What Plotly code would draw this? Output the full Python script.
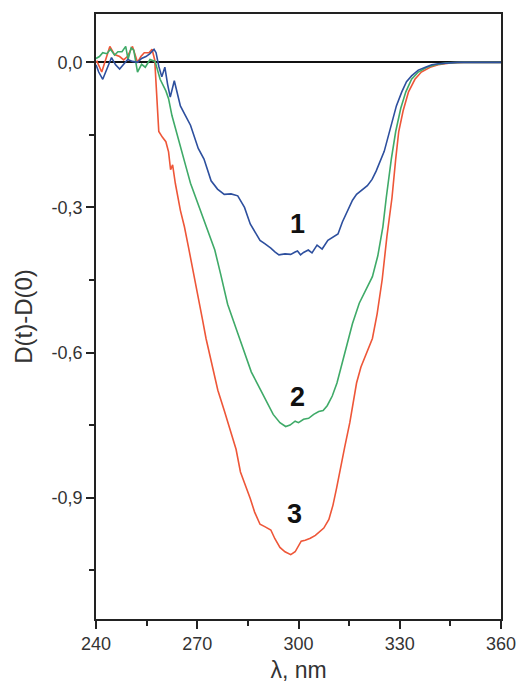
import plotly.graph_objects as go

# ---- data ----
wl_1 = [240, 240.8, 242, 243.3, 244.6, 245.8, 247, 248.2, 249.4, 250.8, 252.3, 253.5, 254.8, 256, 257.2,
        257.8, 258.6, 259.5, 260.4, 261.2, 262, 263.2, 264, 265, 266.5, 268, 270.3, 272, 274.1, 276, 278,
        280, 282, 284, 285.7, 287, 288.6, 290, 291.8, 293, 294.2, 296, 297.7, 299, 299.7, 300.6, 301.5,
        302.9, 304, 305.5, 307, 308.7, 310, 311.7, 313, 314.6, 316, 317.2, 318.8, 320.4, 321.8, 323, 325.4,
        327.7, 329, 330.6, 332, 333.5, 335.5, 337.6, 339.5, 341.4, 344, 347, 350, 355, 360]
d_1 = [-0.005, -0.02, -0.035, -0.012, 0.01, -0.005, -0.014, -0.004, 0.006, 0.002, 0.0, 0.008, 0.012, 0.018, 0.027,
       0.02, -0.008, -0.03, -0.01, -0.045, -0.072, -0.038, -0.06, -0.09, -0.11, -0.13, -0.178, -0.2, -0.245, -0.262, -0.273,
       -0.272, -0.276, -0.3, -0.334, -0.35, -0.368, -0.375, -0.384, -0.392, -0.398, -0.396, -0.397, -0.392, -0.39, -0.398, -0.393,
       -0.388, -0.394, -0.378, -0.386, -0.368, -0.362, -0.355, -0.33, -0.306, -0.285, -0.273, -0.263, -0.255, -0.242, -0.225, -0.184,
       -0.122, -0.09, -0.061, -0.04, -0.028, -0.016, -0.01, -0.005, -0.003, -0.001, 0.0, 0.0, 0.0, 0.0]

wl_2 = [240, 241, 242, 243.2, 244.3, 245.5, 246.5, 247.7, 248.8, 249.5, 250.4, 251.2, 252.3, 253.5, 254.6, 256,
        257.5, 259, 260.7, 261.5, 262.5, 264, 265.3, 266.5, 268, 270.3, 272.5, 275.2, 277, 279, 282, 284, 286,
        288.6, 290.5, 292.5, 294.5, 296.2, 297.5, 299, 300, 301.5, 303, 304.5, 306, 307.3, 308.5, 310, 311.4,
        313, 314.6, 316, 318, 320, 321.9, 323.5, 325, 326, 327.5, 328.8, 330.3, 331.8, 333.5, 335.5, 338,
        340.5, 344, 348, 360]
d_2 = [0.008, 0.012, 0.02, 0.018, 0.027, 0.015, 0.022, 0.022, 0.033, 0.006, 0.03, 0.025, -0.02, -0.004, -0.01, 0.006,
       0.002, -0.035, -0.059, -0.075, -0.11, -0.15, -0.18, -0.212, -0.25, -0.294, -0.34, -0.388, -0.44, -0.5, -0.56, -0.6, -0.64,
       -0.675, -0.7, -0.728, -0.745, -0.753, -0.75, -0.742, -0.745, -0.738, -0.736, -0.728, -0.722, -0.72, -0.71, -0.69, -0.663,
       -0.62, -0.576, -0.54, -0.498, -0.47, -0.443, -0.4, -0.34, -0.28, -0.2, -0.143, -0.095, -0.061, -0.035, -0.02, -0.01,
       -0.005, -0.001, 0.0, 0.0]

wl_3 = [240, 240.3, 241.7, 243.2, 244.1, 245.5, 247, 248.2, 249.3, 250.8, 252.3, 253.3, 254.3, 255.7, 256.6, 257.4,
        257.8, 258.6, 259.7, 260.7, 261.5, 262.1, 262.7, 263.5, 265, 266.2, 267.4, 268.8, 270.3, 271.5, 272.6, 274,
        276.1, 278, 280, 281.5, 282.8, 284.3, 285.7, 287, 288.6, 290, 291.8, 293, 294.5, 296, 297.7, 299, 300,
        300.8, 302, 303.5, 305, 306.5, 307.5, 309, 310.2, 311.3, 312.2, 313.7, 315.2, 316.2, 317.2, 318.5, 320.2,
        321.9, 323.3, 324.8, 326.2, 327.7, 328.8, 329.7, 331, 332.6, 334.5, 336.4, 339, 341.4, 345, 349, 360]
d_3 = [0.0, 0.002, -0.02, 0.012, 0.033, 0.016, 0.012, 0.005, 0.012, 0.033, 0.0, 0.012, 0.02, 0.02, 0.027, 0.005,
       -0.05, -0.143, -0.155, -0.164, -0.185, -0.222, -0.212, -0.25, -0.306, -0.34, -0.382, -0.43, -0.484, -0.53, -0.571, -0.615,
       -0.678, -0.72, -0.765, -0.8, -0.847, -0.875, -0.902, -0.93, -0.955, -0.96, -0.967, -0.985, -1.003, -1.012, -1.018, -1.012, -1.0,
       -0.99, -0.988, -0.984, -0.978, -0.97, -0.963, -0.945, -0.916, -0.88, -0.847, -0.795, -0.745, -0.7, -0.663, -0.63, -0.6,
       -0.571, -0.52, -0.449, -0.36, -0.28, -0.2, -0.143, -0.1, -0.061, -0.035, -0.02, -0.01, -0.005, -0.001, 0.0, 0.0]

curve_labels = ["1", "2", "3"]
label_x = [299.7, 299.7, 298.8]
label_y = [-0.334, -0.692, -0.933]

x_ticks = [240, 270, 300, 330, 360]
x_ticktext = ["240", "270", "300", "330", "360"]
y_ticks = [0.0, -0.3, -0.6, -0.9]
y_ticktext = ["0,0", "-0,3", "-0,6", "-0,9"]

colors = ["#2D4F9E", "#3FAA68", "#EE5638"]

fig = go.Figure()
for wl, d, c, name in [(wl_3, d_3, colors[2], "3"), (wl_2, d_2, colors[1], "2"), (wl_1, d_1, colors[0], "1")]:
    fig.add_trace(go.Scatter(x=wl, y=d, mode="lines", name=name,
                             line=dict(color=c, width=1.6), showlegend=False))

for t, lx, ly in zip(curve_labels, label_x, label_y):
    fig.add_annotation(x=lx, y=ly, text="<b>%s</b>" % t, showarrow=False,
                       font=dict(family="Liberation Sans, Arial, sans-serif", size=27, color="#111111"))

axis_common = dict(showline=True, linecolor="#222222", linewidth=1.5, mirror=True,
                   ticks="outside", tickcolor="#222222", tickwidth=1.5, ticklen=8,
                   showgrid=False,
                   tickfont=dict(family="Liberation Sans, Arial, sans-serif", size=18, color="#333333"))

fig.update_layout(
    width=528, height=691,
    margin=dict(l=96, r=18, t=14, b=64),
    paper_bgcolor="white", plot_bgcolor="white",
    xaxis=dict(range=[240, 360], tickvals=x_ticks, ticktext=x_ticktext,
               minor=dict(dtick=15, tick0=240, ticks="outside", ticklen=5, tickcolor="#222222", tickwidth=1.5),
               title=dict(text="λ, nm", standoff=9,
                          font=dict(family="Liberation Sans, Arial, sans-serif", size=23, color="#333333")),
               zeroline=False, **axis_common),
    yaxis=dict(range=[-1.151, 0.1], tickvals=y_ticks, ticktext=y_ticktext,
               minor=dict(dtick=0.15, tick0=0, ticks="outside", ticklen=5, tickcolor="#222222", tickwidth=1.5),
               title=dict(text="D(t)-D(0)", standoff=12,
                          font=dict(family="Liberation Sans, Arial, sans-serif", size=24, color="#333333")),
               zeroline=True, zerolinecolor="#111111", zerolinewidth=1.8, **axis_common),
)

fig.write_html("out.html")
